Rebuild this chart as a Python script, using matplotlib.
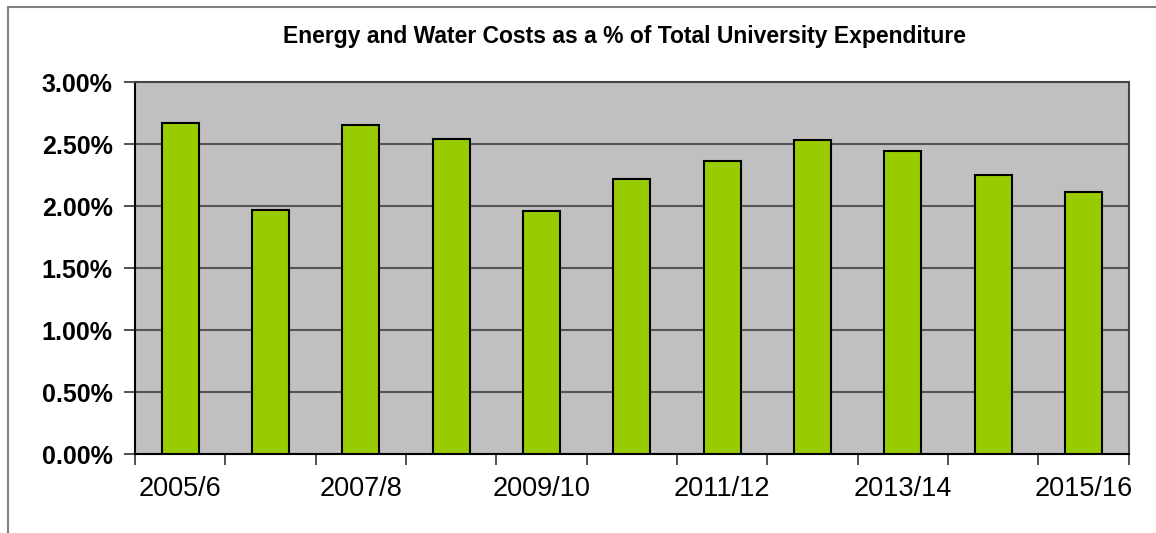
import matplotlib.pyplot as plt
from matplotlib.patches import Rectangle

# Data
years = ["2005/6", "2006/7", "2007/8", "2008/9", "2009/10", "2010/11",
         "2011/12", "2012/13", "2013/14", "2014/15", "2015/16"]
cost_pct = [2.67, 1.97, 2.65, 2.54, 1.96, 2.22, 2.36, 2.53, 2.44, 2.25, 2.11]
y_ticks = [0.0, 0.5, 1.0, 1.5, 2.0, 2.5, 3.0]

plt.rcParams['font.family'] = ['Liberation Sans', 'DejaVu Sans']

fig = plt.figure(figsize=(11.56, 5.33), dpi=100)
ax = fig.add_axes([135/1156, 1-454/533, (1128.6-135)/1156, (454-82)/533])

# outer chart border (cropped at right and bottom in the reference)
fig.patches.append(Rectangle((8/1156, -0.1), 1.2, 1-7/533+0.1, transform=fig.transFigure,
                             fill=False, edgecolor="#808080", linewidth=1.5))

ax.set_facecolor("#C0C0C0")
x = list(range(len(years)))
ax.bar(x, cost_pct, width=0.41, color="#99CC00", edgecolor="black", linewidth=1.5, zorder=3)

ax.set_xlim(-0.5, len(years)-0.5)
ax.set_ylim(0, 3.0)
ax.set_yticks(y_ticks)
ax.set_yticklabels(["%.2f%%" % v for v in y_ticks], fontsize=18, fontweight="bold")
ax.yaxis.grid(True, color="#555555", linewidth=1.5, zorder=0)
ax.set_axisbelow(True)

# tick marks at category boundaries, labels on every other category
ax.set_xticks([i - 0.5 for i in range(len(years)+1)])
ax.set_xticklabels([])
ax.set_xticks(x[::2], minor=True)
ax.set_xticklabels(years[::2], minor=True, fontsize=19.5)
ax.tick_params(axis="x", which="minor", length=0, pad=16)
ax.tick_params(axis="x", which="major", length=8, width=1.2, color="#333333")
ax.tick_params(axis="y", length=8, width=1.2, color="#333333", pad=8)

for side in ["left", "bottom"]:
    ax.spines[side].set_color("black")
    ax.spines[side].set_linewidth(1.5)
for side in ["top", "right"]:
    ax.spines[side].set_color("#444444")
    ax.spines[side].set_linewidth(1.5)

fig.text((283+966)/2/1156, 1-36/533, "Energy and Water Costs as a % of Total University Expenditure",
         ha="center", va="center", fontsize=16.5, fontweight="bold")

fig.savefig("out.png", dpi=100)
